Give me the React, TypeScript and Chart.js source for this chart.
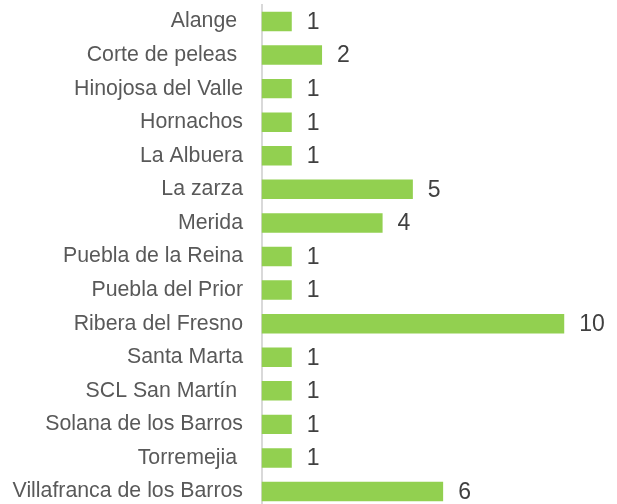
import React, { useEffect, useRef } from "react";
import { Chart, registerables } from "chart.js";

Chart.register(...registerables);

const categories = [
  "Alange ",
  "Corte de peleas ",
  "Hinojosa del Valle",
  "Hornachos",
  "La Albuera",
  "La zarza",
  "Merida",
  "Puebla de la Reina",
  "Puebla del Prior",
  "Ribera del Fresno",
  "Santa Marta",
  "SCL San Martín ",
  "Solana de los Barros",
  "Torremejia ",
  "Villafranca de los Barros",
];
const values = [1, 2, 1, 1, 1, 5, 4, 1, 1, 10, 1, 1, 1, 1, 6];

const FONT = "Arial, 'Liberation Sans', sans-serif";

const valueLabels = {
  id: "valueLabels",
  afterDatasetsDraw(chart: any) {
    const ctx = chart.ctx;
    const meta = chart.getDatasetMeta(0);
    ctx.save();
    ctx.font = `23px ${FONT}`;
    ctx.fillStyle = "#404040";
    ctx.textAlign = "left";
    ctx.textBaseline = "middle";
    meta.data.forEach((bar: any, i: number) => {
      ctx.fillText(String(values[i]), bar.x + 15, bar.y + 1);
    });
    ctx.restore();
  },
};

export default function App() {
  const ref = useRef<HTMLCanvasElement>(null);
  useEffect(() => {
    if (!ref.current) return;
    const chart = new Chart(ref.current, {
      type: "bar",
      data: {
        labels: categories,
        datasets: [
          {
            data: values,
            backgroundColor: "#92D050",
            borderWidth: 0,
            categoryPercentage: 1,
            barPercentage: 0.58,
          },
        ],
      },
      options: {
        indexAxis: "y",
        responsive: false,
        animation: false,
        layout: { padding: { top: 4.7, bottom: 3.7, left: 0, right: 22.5 } },
        plugins: {
          legend: { display: false },
          tooltip: { enabled: false },
        },
        scales: {
          x: {
            display: false,
            min: 0,
            max: 11,
          },
          y: {
            afterFit(scale: any) {
              scale.width = 261.5;
              scale.paddingTop = 0;
              scale.paddingBottom = 0;
            },
            grid: { display: false, drawTicks: false },
            border: { display: true, color: "#d9d9d9", width: 2 },
            ticks: {
              padding: 18.5,
              color: "#595959",
              font: { size: 21.3, family: FONT },
              autoSkip: false,
            },
          },
        },
      },
      plugins: [valueLabels],
    });
    return () => chart.destroy();
  }, []);
  return (
    <div
      style={{
        position: "absolute",
        left: 0,
        top: 0,
        width: 617,
        height: 504,
        overflow: "hidden",
        background: "#fff",
      }}
    >
      <canvas ref={ref} width={617} height={512} style={{ display: "block" }} />
    </div>
  );
}
